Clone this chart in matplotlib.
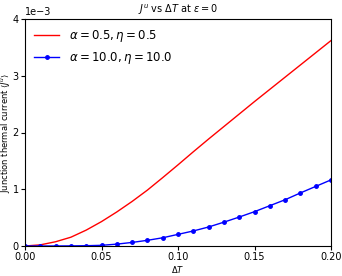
import numpy as np
import matplotlib
matplotlib.use("Agg")
import matplotlib.pyplot as plt

# delta T grid
dT = [0.00, 0.01, 0.02, 0.03, 0.04, 0.05, 0.06, 0.07, 0.08, 0.09, 0.10,
      0.11, 0.12, 0.13, 0.14, 0.15, 0.16, 0.17, 0.18, 0.19, 0.20]

# J^u in units of 1e-3
J_a05 = [0.0, 0.02, 0.075, 0.155, 0.28, 0.43, 0.60, 0.785, 0.985, 1.205, 1.43,
         1.66, 1.885, 2.105, 2.325, 2.545, 2.76, 2.975, 3.19, 3.405, 3.62]
J_a10 = [0.0, 0.0, 0.0005, 0.002, 0.005, 0.012, 0.033, 0.063, 0.10, 0.145, 0.205,
         0.265, 0.335, 0.42, 0.51, 0.605, 0.71, 0.815, 0.935, 1.05, 1.165]

x = np.array(dT)
y1 = np.array(J_a05) * 1e-3
y2 = np.array(J_a10) * 1e-3

fig = plt.figure(figsize=(3.42, 2.76), dpi=100)
ax = fig.add_axes([25/342, 1 - 246/276, 306/342, 227/276])

ax.plot(x, y1, color="red", lw=1, label=r"$\alpha = 0.5, \eta = 0.5$")
ax.plot(x, y2, color="blue", lw=1, marker="o", ms=2.5,
        label=r"$\alpha = 10.0, \eta = 10.0$")

ax.set_xlim(0, 0.2)
ax.set_ylim(0, 0.004)
ax.set_xticks([0.0, 0.05, 0.10, 0.15, 0.20])
ax.set_yticks([0, 0.001, 0.002, 0.003, 0.004])
ax.ticklabel_format(axis="y", style="sci", scilimits=(0, 0))
ax.yaxis.get_offset_text().set_fontsize(7)
ax.tick_params(labelsize=7, length=3, pad=1.5)

ax.set_title(r"$J^u$ vs $\Delta T$ at $\varepsilon = 0$", fontsize=7, pad=4)
ax.set_xlabel(r"$\Delta T$", fontsize=6, labelpad=1)
ax.set_ylabel(r"Junction thermal current $\langle J^u \rangle$", fontsize=6)
ax.yaxis.set_label_coords(-0.043, 0.5)
ax.legend(loc="upper left", fontsize=8.5, frameon=False, handlelength=2.1,
          borderaxespad=0.4)

fig.savefig("out.png", dpi=100)
